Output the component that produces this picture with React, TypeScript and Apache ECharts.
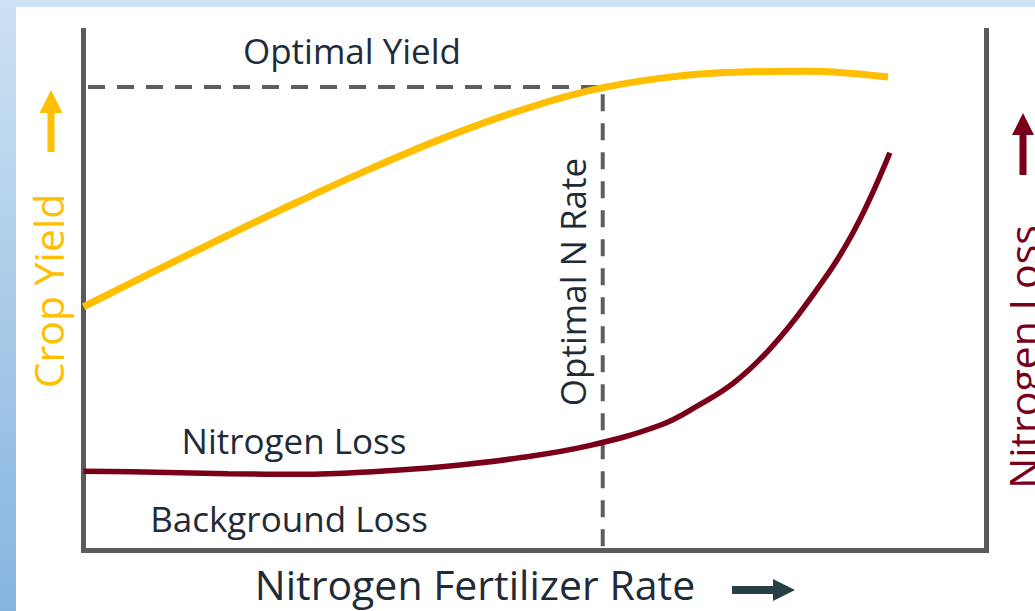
import React, { useEffect, useRef } from "react";
import * as echarts from "echarts";

// Nitrogen fertilizer rate (relative units, 0-100) and responses (relative units, 0-100)
const yieldRate = [0, 8, 16, 24, 32, 40, 48, 56, 64, 72, 80, 89.1];
const yieldValue = [46.6, 53.5, 60.3, 66.9, 73.2, 79.0, 84.0, 88.0, 90.4, 91.5, 91.7, 90.6];
const lossRate = [0, 8, 16, 24, 32, 40, 48, 56, 64, 68, 72, 76, 80, 85, 89.3];
const lossValue = [15.1, 14.9, 14.6, 14.5, 15.0, 16.0, 17.6, 20.0, 24.0, 27.6, 32.0, 38.5, 47.0, 60.1, 76.1];
const optimalRate = 57.5;
const optimalYield = 88.7;
const guideStartRate = 0.5;
const guideBottom = -1;
const axisMin = 0;
const axisMax = 100;

const labels = {
  optimalYield: "Optimal Yield",
  optimalRate: "Optimal N Rate",
  nitrogenLoss: "Nitrogen Loss",
  backgroundLoss: "Background Loss",
  xTitle: "Nitrogen Fertilizer Rate",
  yLeft: "Crop Yield",
  yRight: "Nitrogen Loss",
};

const YELLOW = "#FFBF00";
const MAROON = "#7A0019";
const TEXT = "#212b38";
const AXIS = "#5b5b5b";
const FONT = "'Open Sans', 'Noto Sans', sans-serif";

export default function App() {
  const ref = useRef<HTMLDivElement>(null);
  useEffect(() => {
    const chart = echarts.init(ref.current!, null, { renderer: "svg" });
    const hidden = {
      axisTick: { show: false },
      axisLabel: { show: false },
      splitLine: { show: false },
    };
    const axisLine = (cap: string) => ({
      show: true,
      onZero: false,
      lineStyle: { color: AXIS, width: 5, cap },
    });
    chart.setOption({
      animation: false,
      grid: { left: 83.5, right: 48.5, top: 28, bottom: 61 },
      xAxis: {
        type: "value",
        min: axisMin,
        max: axisMax,
        axisLine: axisLine("square"),
        ...hidden,
      },
      yAxis: [
        { type: "value", min: axisMin, max: axisMax, position: "left", axisLine: axisLine("butt"), ...hidden },
        { type: "value", min: axisMin, max: axisMax, position: "right", axisLine: axisLine("butt"), ...hidden },
      ],
      series: [
        {
          type: "line",
          data: [
            [guideStartRate, optimalYield],
            [optimalRate, optimalYield],
            [optimalRate, guideBottom],
          ],
          symbol: "none",
          clip: false,
          z: 1,
          lineStyle: { color: "#5d5d5d", width: 4, type: [17, 12] },
        },
        {
          type: "line",
          data: yieldRate.map((x, i) => [x, yieldValue[i]]),
          smooth: 0.4,
          symbol: "none",
          clip: false,
          z: 3,
          lineStyle: { color: YELLOW, width: 7, cap: "butt" },
        },
        {
          type: "line",
          data: lossRate.map((x, i) => [x, lossValue[i]]),
          smooth: 0.4,
          symbol: "none",
          clip: false,
          z: 3,
          lineStyle: { color: MAROON, width: 5.5, cap: "butt" },
        },
      ],
      graphic: [
        {
          type: "rect",
          z: -10,
          silent: true,
          shape: { x: 0, y: 0, width: 1035, height: 611 },
          style: {
            fill: new echarts.graphic.LinearGradient(0, 0, 0, 1, [
              { offset: 0, color: "#cde2f2" },
              { offset: 1, color: "#86b4e0" },
            ]),
          },
        },
        {
          type: "rect",
          z: -9,
          silent: true,
          shape: { x: 16, y: 7, width: 1019, height: 604 },
          style: { fill: "#ffffff" },
        },
        {
          type: "text",
          z: 10,
          x: 352,
          y: 50,
          style: { text: labels.optimalYield, fill: TEXT, font: `35px ${FONT}`, textAlign: "center", textVerticalAlign: "middle" },
        },
        {
          type: "text",
          z: 10,
          x: 294,
          y: 440,
          style: { text: labels.nitrogenLoss, fill: TEXT, font: `35px ${FONT}`, textAlign: "center", textVerticalAlign: "middle" },
        },
        {
          type: "text",
          z: 10,
          x: 289,
          y: 518,
          style: { text: labels.backgroundLoss, fill: TEXT, font: `35px ${FONT}`, textAlign: "center", textVerticalAlign: "middle" },
        },
        {
          type: "text",
          z: 10,
          x: 475,
          y: 584,
          style: { text: labels.xTitle, fill: TEXT, font: `41px ${FONT}`, textAlign: "center", textVerticalAlign: "middle" },
        },
        {
          type: "text",
          z: 10,
          x: 572,
          y: 282,
          rotation: Math.PI / 2,
          style: { text: labels.optimalRate, fill: TEXT, font: `35px ${FONT}`, textAlign: "center", textVerticalAlign: "middle" },
        },
        {
          type: "text",
          z: 10,
          x: 48,
          y: 291,
          rotation: Math.PI / 2,
          style: { text: labels.yLeft, fill: YELLOW, font: `41px ${FONT}`, textAlign: "center", textVerticalAlign: "middle" },
        },
        {
          type: "text",
          z: 10,
          x: 1023,
          y: 357,
          rotation: Math.PI / 2,
          style: { text: labels.yRight, fill: MAROON, font: `41px ${FONT}`, textAlign: "center", textVerticalAlign: "middle" },
        },
        {
          type: "polygon",
          z: 10,
          shape: {
            points: [[51, 90], [62.5, 113], [54.5, 113], [54.5, 152], [47.5, 152], [47.5, 113], [39.5, 113]],
          },
          style: { fill: YELLOW },
        },
        {
          type: "polygon",
          z: 10,
          shape: {
            points: [[1023, 113], [1034, 135], [1026.5, 135], [1026.5, 175], [1019.5, 175], [1019.5, 135], [1012, 135]],
          },
          style: { fill: MAROON },
        },
        {
          type: "polygon",
          z: 10,
          shape: {
            points: [[795, 590], [773, 579], [773, 586], [732, 586], [732, 594], [773, 594], [773, 601]],
          },
          style: { fill: "#263f44" },
        },
      ],
    });
    return () => chart.dispose();
  }, []);
  return (
    <div
      ref={ref}
      style={{ position: "absolute", left: 0, top: 0, width: 1035, height: 611 }}
    />
  );
}
